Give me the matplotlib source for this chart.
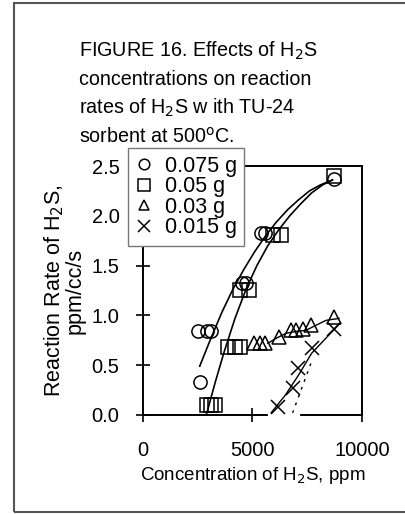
import matplotlib
matplotlib.use("Agg")
import matplotlib.pyplot as plt
from matplotlib.patches import Rectangle

plt.rcParams['font.family'] = ['Liberation Sans', 'DejaVu Sans']

# ---- data ----
circ_x = [2590, 2520, 2900, 3120, 4500, 4700, 5400, 5550, 8730]
circ_y = [0.33, 0.84, 0.84, 0.84, 1.33, 1.33, 1.83, 1.83, 2.37]
sq_x = [2900, 3120, 3270, 3880, 4180, 4410, 4410, 4860, 5920, 6300, 8730]
sq_y = [0.10, 0.10, 0.10, 0.68, 0.68, 0.68, 1.26, 1.26, 1.81, 1.81, 2.40]
tri_x = [5090, 5320, 5550, 6230, 6760, 6990, 7290, 7670, 8730]
tri_y = [0.72, 0.72, 0.72, 0.78, 0.85, 0.85, 0.86, 0.90, 0.98]
x_x = [6150, 6830, 7060, 7710, 8730]
x_y = [0.08, 0.27, 0.47, 0.67, 0.86]

# fitted curves
circ_fit_x = [2590, 3100, 3600, 4100, 4600, 5100, 5600, 6100, 6600, 7100, 7600, 8100, 8650]
circ_fit_y = [0.49, 0.77, 1.03, 1.26, 1.46, 1.64, 1.80, 1.94, 2.06, 2.16, 2.25, 2.31, 2.36]
sq_fit_x = [2890, 3300, 3700, 4200, 4700, 5200, 5700, 6200, 6700, 7200, 7700, 8200, 8650]
sq_fit_y = [0.00, 0.33, 0.63, 0.97, 1.26, 1.50, 1.70, 1.86, 2.00, 2.12, 2.23, 2.31, 2.36]
tri_fit_x = [5700, 6080, 6530, 7000, 7440, 7890, 8350, 8950]
tri_fit_y = [0.72, 0.77, 0.82, 0.84, 0.85, 0.90, 0.95, 0.97]
x_fit_x = [5770, 6500, 7100, 7700, 8950]
x_fit_y = [0.00, 0.20, 0.40, 0.62, 0.91]
x_dot_x = [6830, 7670]
x_dot_y = [0.02, 0.52]

labels = ['0.075 g', '0.05 g', '0.03 g', '0.015 g']
xticks = [0, 5000, 10000]
yticks = [0.0, 0.5, 1.0, 1.5, 2.0, 2.5]

W, H = 406, 514
fig = plt.figure(figsize=(W / 100, H / 100), dpi=100)

# outer frame (right edge lies outside the image)
fig.patches.append(Rectangle((14 / W, 2 / H), (W + 30 - 14) / W, (511 - 2) / H,
                             transform=fig.transFigure, fill=False,
                             edgecolor='#555555', lw=1.5))

ax = fig.add_axes([143 / W, (H - 415) / H, (362 - 143) / W, (415 - 166) / H])
ax.set_xlim(0, 10000)
ax.set_ylim(0, 2.5)

mk = dict(linestyle='none', markerfacecolor='none', markeredgecolor='black',
          markeredgewidth=1.1, clip_on=False, zorder=4)
ax.plot(circ_fit_x, circ_fit_y, color='black', lw=1.2, zorder=3)
ax.plot(sq_fit_x, sq_fit_y, color='black', lw=1.2, zorder=3)
ax.plot(tri_fit_x, tri_fit_y, color='black', lw=1.0, zorder=3)
ax.plot(x_fit_x, x_fit_y, color='black', lw=1.0, zorder=3)
ax.plot(x_dot_x, x_dot_y, color='black', lw=1.0, linestyle=(0, (2, 4)), zorder=3)

h1, = ax.plot(circ_x, circ_y, marker='o', markersize=9.5, **mk)
h2, = ax.plot(sq_x, sq_y, marker='s', markersize=10.5, **mk)
h3, = ax.plot(tri_x, tri_y, marker='^', markersize=9.5, **mk)
h4, = ax.plot(x_x, x_y, marker='x', markersize=10, **{k: v for k, v in mk.items() if k != 'markerfacecolor'})

# gap in the bottom axis line seen in the reference
ax.plot([5800, 7100], [0, 0], color='white', lw=3, clip_on=False, zorder=3.5)

for s in ax.spines.values():
    s.set_linewidth(1.4)
ax.set_xticks(xticks)
ax.set_yticks(yticks)
ax.set_xticklabels(['0', '5000', '10000'])
ax.set_yticklabels(['%.1f' % v for v in yticks])
ax.tick_params(direction='inout', length=10, width=1.2, labelsize=14.5)
ax.tick_params(axis='x', pad=14)
ax.tick_params(axis='y', pad=12)

ax.set_xlabel('Concentration of H$_2$S, ppm', fontsize=13.5,
              family=['Liberation Sans Narrow', 'Liberation Sans'], labelpad=3)
ax.set_ylabel('Reaction Rate of H$_2$S,\nppm/cc/s', fontsize=15.5, labelpad=4,
              linespacing=0.95)

leg = ax.legend([h1, h2, h3, h4], labels, loc='upper left',
                bbox_to_anchor=(128 / W, 1 - 148 / H), bbox_transform=fig.transFigure,
                fontsize=15.5, frameon=True, fancybox=False, framealpha=1,
                edgecolor='#777777', borderpad=0.35, labelspacing=-0.02,
                handlelength=0.75, handletextpad=0.6, borderaxespad=0,
                markerscale=0.8)
leg.get_frame().set_linewidth(1.0)
leg.set_zorder(10)

title_lines = ['FIGURE 16. Effects of H$_2$S',
               'concentrations on reaction',
               'rates of H$_2$S w ith TU-24',
               'sorbent at 500$^{\\rm o}$C.']
for i, t in enumerate(title_lines):
    fig.text(79 / W, 1 - (51 + i * 28.5) / H, t, fontsize=14.2, ha='left', va='center')

fig.savefig('out.png', dpi=100)
